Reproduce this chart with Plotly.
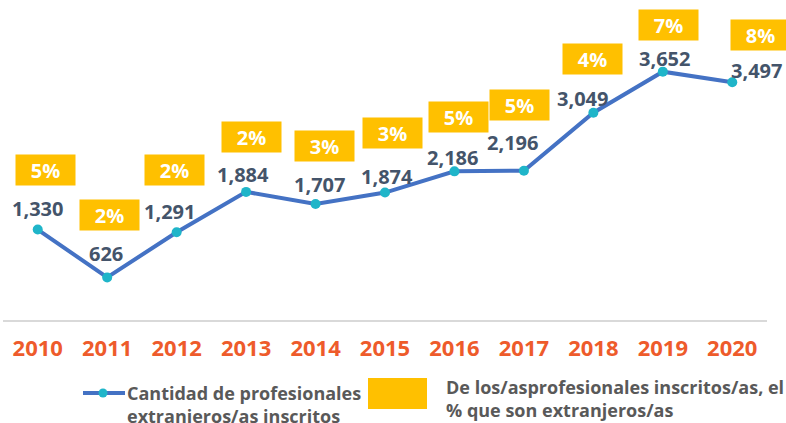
import plotly.graph_objects as go

years = ["2010", "2011", "2012", "2013", "2014", "2015", "2016", "2017", "2018", "2019", "2020"]
professionals = [1330, 626, 1291, 1884, 1707, 1874, 2186, 2196, 3049, 3652, 3497]
value_labels = ["1,330", "626", "1,291", "1,884", "1,707", "1,874", "2,186", "2,196", "3,049", "3,652", "3,497"]
pct_labels = ["5%", "2%", "2%", "2%", "3%", "3%", "5%", "5%", "4%", "7%", "8%"]

# label placement offsets (px) relative to each point
val_dx = [0, -1, -7, -3, 4, 2, -2, -11, -11, 2, 24]
val_dy = [21, 24, 21, 17, 19, 16, 14, 28, 14, 13, 12]
pct_dx = [8, 2, -2, 5, 9, 7, 4, -4, -1, 6, 28]
pct_dy = [60, 62, 62, 55, 58, 60, 54, 66, 54, 47, 47]

W, H = 786, 423
ML, MR, MT, MB = 3, 19, 14, 103
PW, PH = W - ML - MR, H - MT - MB

def px(x):
    return (x - ML) / PW

def py(y):
    return (H - MB - y) / PH

LINE = "#4472C4"
MARK = "#1FB5C9"
GOLD = "#FFC000"
VALC = "#44546A"
TICKC = "#EE5B2B"
LEGC = "#595959"
FONT = "Open Sans, Noto Sans, sans-serif"

fig = go.Figure()
fig.add_trace(go.Scatter(
    x=years, y=professionals, mode="lines+markers",
    line=dict(color=LINE, width=4),
    marker=dict(color=MARK, size=10),
    showlegend=False, hoverinfo="skip",
))

anns = []
for i, yr in enumerate(years):
    anns.append(dict(
        x=i, y=professionals[i], xref="x", yref="y",
        text=value_labels[i], showarrow=False,
        xshift=val_dx[i], yshift=val_dy[i],
        font=dict(family=FONT, size=20, color=VALC, weight="bold"),
    ))
    anns.append(dict(
        x=i, y=professionals[i], xref="x", yref="y",
        text=pct_labels[i], showarrow=False,
        xshift=pct_dx[i], yshift=pct_dy[i],
        width=59, height=30, bgcolor=GOLD, borderpad=0,
        align="center", valign="middle",
        font=dict(family=FONT, size=20, color="white", weight="bold"),
    ))

# legend (drawn manually)
anns.append(dict(
    x=px(125), y=py(404), xref="paper", yref="paper", xanchor="left", yanchor="middle",
    text="Cantidad de profesionales<br>extranjeros/as inscritos", showarrow=False, align="left",
    font=dict(family=FONT, size=18, color=LEGC, weight="bold"),
))
anns.append(dict(
    x=px(444), y=py(398), xref="paper", yref="paper", xanchor="left", yanchor="middle",
    text="De los/asprofesionales inscritos/as, el<br>% que son extranjeros/as", showarrow=False, align="left",
    font=dict(family=FONT, size=18, color=LEGC, weight="bold"),
))

shapes = [
    dict(type="line", xref="paper", yref="paper", x0=px(83), x1=px(125), y0=py(393), y1=py(393),
         line=dict(color=LINE, width=4)),
    dict(type="circle", xref="paper", yref="paper", x0=px(98.5), x1=px(107.5), y0=py(388.5), y1=py(397.5),
         fillcolor=MARK, line=dict(width=0)),
    dict(type="rect", xref="paper", yref="paper", x0=px(368), x1=px(427), y0=py(378), y1=py(409),
         fillcolor=GOLD, line=dict(width=0)),
]

fig.update_layout(
    width=W, height=H,
    margin=dict(l=ML, r=MR, t=MT, b=MB),
    paper_bgcolor="white", plot_bgcolor="white",
    annotations=anns, shapes=shapes,
    xaxis=dict(
        type="category", range=[-0.5, 10.5],
        showline=True, linecolor="#D9D9D9", linewidth=2,
        showgrid=False, zeroline=False, ticks="",
        ticklabelstandoff=8,
        tickfont=dict(family=FONT, size=22, color=TICKC, weight="bold"),
    ),
    yaxis=dict(
        range=[0, 4500], visible=False, showgrid=False, zeroline=False,
    ),
)

fig.write_html(
    "out.html",
    config={"displayModeBar": False},
    post_script="document.body.style.margin='0';document.body.style.overflow='hidden';",
)
